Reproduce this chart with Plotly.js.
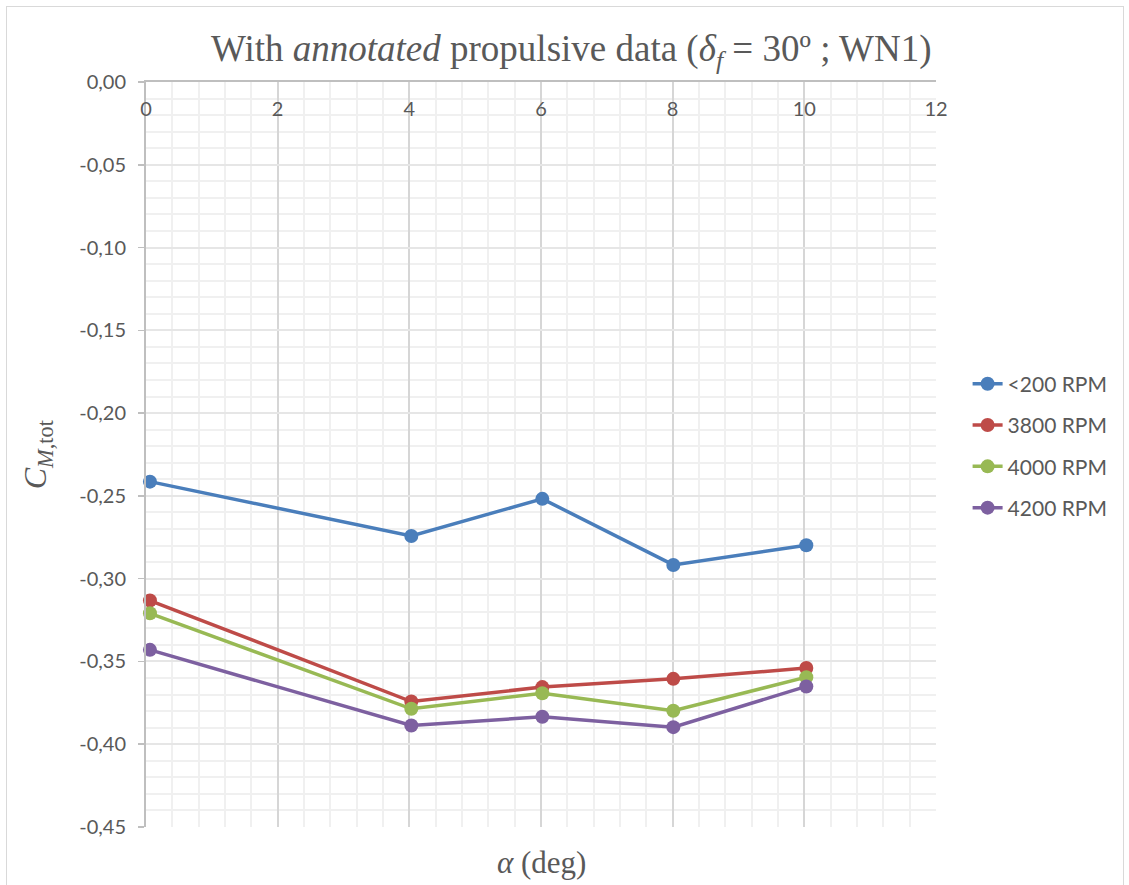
<!DOCTYPE html>
<html>
<head>
<meta charset="utf-8">
<script src="https://cdn.plot.ly/plotly-3.0.1.min.js"></script>
<style>
html,body{margin:0;padding:0;background:#fff;}
#chart{position:absolute;left:0;top:0;width:1129px;height:885px;}
#frame{position:absolute;left:6px;top:6px;width:1116px;height:890px;border:1px solid #d9d9d9;pointer-events:none;}
</style>
</head>
<body>
<div id="chart"></div>
<div id="frame"></div>
<script>
const alpha = [0.06, 4.03, 6.02, 8.01, 10.03];
const seriesNames = ["<200 RPM", "3800 RPM", "4000 RPM", "4200 RPM"];
const cm_lt200 = [-0.2414, -0.2742, -0.2518, -0.2917, -0.2798];
const cm_3800 = [-0.3132, -0.3742, -0.3655, -0.3605, -0.3540];
const cm_4000 = [-0.3209, -0.3786, -0.3692, -0.3798, -0.3595];
const cm_4200 = [-0.3430, -0.3887, -0.3834, -0.3897, -0.3651];
const colors = ["#4a7ebb", "#be4b48", "#98b954", "#7d60a0"];

const xTickVals = [0, 2, 4, 6, 8, 10, 12];
const xTickLabels = ["0", "2", "4", "6", "8", "10", "12"];
const yTickVals = [0, -0.05, -0.10, -0.15, -0.20, -0.25, -0.30, -0.35, -0.40, -0.45];
const yTickLabels = ["0,00", "-0,05", "-0,10", "-0,15", "-0,20", "-0,25", "-0,30", "-0,35", "-0,40", "-0,45"];

// minor grid positions (between majors)
const xMinor = [];
for (let i = 0; i < 30; i++) { if (i % 5 !== 0) xMinor.push(+(i * 0.4).toFixed(2)); }
const yMinor = [];
for (let i = 1; i < 45; i++) { if (i % 5 !== 0) yMinor.push(-(i / 100)); }

const allSeries = [cm_lt200, cm_3800, cm_4000, cm_4200];
const traces = allSeries.map((ys, i) => ({
  x: alpha, y: ys, name: seriesNames[i], type: "scatter", mode: "lines+markers",
  legendgroup: "g" + i, cliponaxis: false,
  line: {color: colors[i], width: 3.5},
  marker: {color: colors[i], size: 14}
}));

const tickFont = {family: "Lato, 'Open Sans', sans-serif", size: 20, color: "#595959"};
const layout = {
  width: 1129, height: 885,
  paper_bgcolor: "#fff", plot_bgcolor: "#fff",
  margin: {l: 146, r: 193, t: 82, b: 58},
  title: {
    text: "With <i>annotated</i> propulsive data (<i>δ<sub>f</sub></i> = 30º ; WN1)",
    font: {family: "'Liberation Serif', 'Times New Roman', serif", size: 37, color: "#595959"},
    x: 0.506, xanchor: "center", y: 0.946, yanchor: "middle"
  },
  xaxis: {
    range: [0, 12], tickmode: "array", tickvals: xTickVals, ticktext: xTickLabels, side: "top",
    ticklabelposition: "inside", ticklabeloverflow: "allow", ticklabelstandoff: 21, ticks: "",
    tickfont: tickFont,
    showline: true, linecolor: "#bfbfbf", linewidth: 2,
    showgrid: true, gridcolor: "#d6d6d6", gridwidth: 2,
    zeroline: false,
    minor: {tickmode: "array", tickvals: xMinor, showgrid: true, gridcolor: "#f0f0f0", gridwidth: 2, ticks: ""}
  },
  yaxis: {
    range: [-0.45, 0], tickmode: "array", tickvals: yTickVals, ticktext: yTickLabels,
    ticks: "outside", ticklen: 6, tickcolor: "#bfbfbf", tickwidth: 1.5, ticklabelstandoff: 8,
    tickfont: tickFont,
    showline: true, linecolor: "#bfbfbf", linewidth: 2,
    showgrid: true, gridcolor: "#e6e6e6", gridwidth: 2,
    zeroline: false,
    minor: {tickmode: "array", tickvals: yMinor, showgrid: true, gridcolor: "#f0f0f0", gridwidth: 2, ticks: ""}
  },
  legend: {
    x: 1.04, xanchor: "left", y: 0.622, yanchor: "top",
    font: {family: "Lato, 'Open Sans', sans-serif", size: 21, color: "#595959"},
    tracegroupgap: 11, traceorder: "grouped", bgcolor: "rgba(0,0,0,0)"
  },
  annotations: [
    {text: "<i>α</i> (deg)", xref: "paper", yref: "paper", x: 0.5, y: -0.047, xanchor: "center", yanchor: "middle",
     showarrow: false, font: {family: "'Liberation Serif', 'Times New Roman', serif", size: 31, color: "#595959"}},
    {text: "<i>C</i><sub><i>M</i>,tot</sub>", xref: "paper", yref: "paper", x: -0.137, y: 0.5, xanchor: "center", yanchor: "middle",
     textangle: -90, showarrow: false, font: {family: "'Liberation Serif', 'Times New Roman', serif", size: 32, color: "#595959"}}
  ]
};

Plotly.newPlot("chart", traces, layout, {displayModeBar: false, staticPlot: true});
</script>
</body>
</html>
